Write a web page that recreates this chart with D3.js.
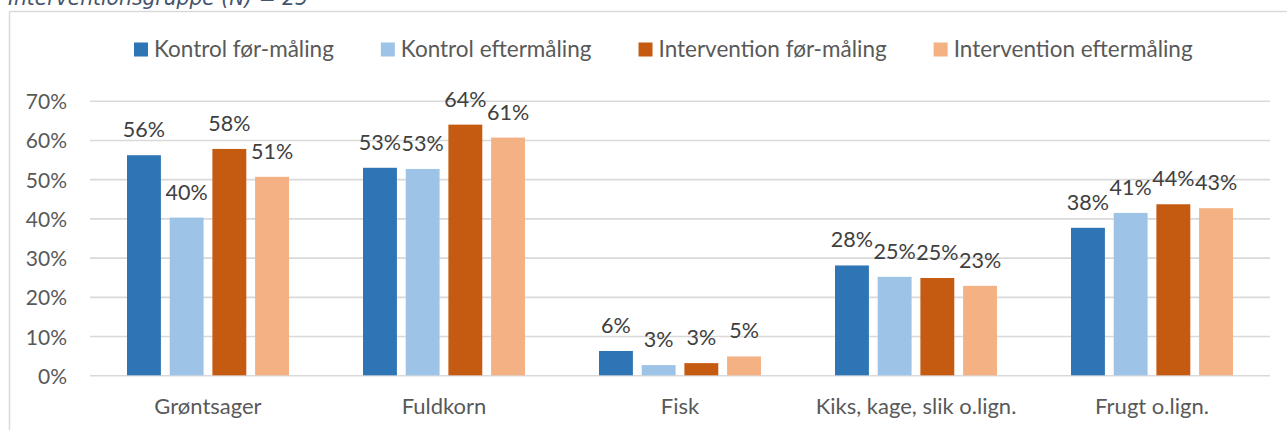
<!DOCTYPE html>
<html>
<head>
<meta charset="utf-8">
<script src="https://cdn.jsdelivr.net/npm/d3@7"></script>
<style>
  html, body { margin: 0; padding: 0; background: #fff; }
  svg { display: block; }
</style>
</head>
<body>
<svg id="chart" width="1287" height="430"></svg>
<script>
// Food categories on the x axis
const categories = ["Grøntsager", "Fuldkorn", "Fisk", "Kiks, kage, slik o.lign.", "Frugt o.lign."];

// Series names (legend order)
const seriesNames = ["Kontrol før-måling", "Kontrol eftermåling", "Intervention før-måling", "Intervention eftermåling"];

// Share per category for each series
const kontrolFoer   = [0.561, 0.529, 0.062, 0.280, 0.376];
const kontrolEfter  = [0.402, 0.526, 0.026, 0.251, 0.414];
const interventFoer = [0.577, 0.639, 0.031, 0.248, 0.436];
const interventEfter= [0.506, 0.606, 0.048, 0.228, 0.426];
const seriesValues = [kontrolFoer, kontrolEfter, interventFoer, interventEfter];

// Y axis tick values
const yTicks = [0, 0.1, 0.2, 0.3, 0.4, 0.5, 0.6, 0.7];

const colors = ["#2E75B6", "#9DC3E6", "#C55A11", "#F4B183"];

const svg = d3.select("#chart");
const fontFamily = "Lato, 'Noto Sans', sans-serif";

// Chart frame (top and left edges fall inside the page)
svg.append("line").attr("x1", 9.5).attr("x2", 1287).attr("y1", 11.5).attr("y2", 11.5)
  .attr("stroke", "#d9d9d9").attr("stroke-width", 1.5);
svg.append("line").attr("x1", 9.5).attr("x2", 9.5).attr("y1", 11.5).attr("y2", 430)
  .attr("stroke", "#d9d9d9").attr("stroke-width", 1.5);

// Heading above the frame
svg.append("text")
  .attr("x", 8).attr("y", 5)
  .attr("font-family", "'DejaVu Sans', sans-serif")
  .attr("font-style", "italic")
  .attr("font-size", 21)
  .attr("fill", "#44546A")
  .attr("textLength", 300)
  .attr("lengthAdjust", "spacingAndGlyphs")
  .text("Interventionsgruppe (N) = 25");

// Scales
const plot = { left: 90, right: 1270, top: 100.7, bottom: 375.3 };
const y = d3.scaleLinear().domain([0, 0.7]).range([plot.bottom, plot.top]);
const x0 = d3.scaleBand().domain(categories).range([plot.left, plot.right])
  .paddingInner(0.3136).paddingOuter(0.1568);
const x1 = d3.scaleBand().domain(d3.range(seriesNames.length)).range([0, x0.bandwidth()])
  .paddingInner(0.206).paddingOuter(0);

// Gridlines and value axis labels
const yAxis = d3.axisLeft(y).tickValues(yTicks).tickFormat(d3.format(".0%"))
  .tickSize(-(plot.right - plot.left)).tickPadding(23);
const gy = svg.append("g").attr("transform", `translate(${plot.left},0)`).call(yAxis);
gy.select(".domain").remove();
gy.selectAll(".tick line").attr("stroke", "#d9d9d9").attr("stroke-width", 1.6);
gy.selectAll(".tick text")
  .attr("font-family", fontFamily).attr("font-size", 21).attr("fill", "#595959")
  .attr("dy", "0.38em");

// Category labels
const xAxis = d3.axisBottom(x0).tickSize(0).tickPadding(23);
const gx = svg.append("g").attr("transform", `translate(0,${plot.bottom})`).call(xAxis);
gx.select(".domain").remove();
gx.selectAll(".tick text")
  .attr("font-family", fontFamily).attr("font-size", 22).attr("fill", "#595959");

// Bars
const rows = categories.map((c, i) => ({
  cat: c,
  vals: seriesValues.map((arr, s) => ({ s, v: arr[i] }))
}));

const groups = svg.append("g").selectAll("g").data(rows).join("g")
  .attr("transform", d => `translate(${x0(d.cat)},0)`);

groups.selectAll("rect").data(d => d.vals).join("rect")
  .attr("x", d => x1(d.s))
  .attr("width", x1.bandwidth())
  .attr("y", d => y(d.v))
  .attr("height", d => y(0) - y(d.v))
  .attr("fill", d => colors[d.s]);

// Value labels above bars
groups.selectAll("text").data(d => d.vals).join("text")
  .attr("x", d => x1(d.s) + x1.bandwidth() / 2)
  .attr("y", d => y(d.v) - 18)
  .attr("text-anchor", "middle")
  .attr("font-family", fontFamily).attr("font-size", 21.5).attr("fill", "#404040")
  .text(d => d3.format(".0%")(d.v));

// Legend
const legend = svg.append("g");
let lx = 134;
seriesNames.forEach((name, i) => {
  legend.append("rect").attr("x", lx).attr("y", 42.5).attr("width", 14).attr("height", 14)
    .attr("fill", colors[i]);
  const t = legend.append("text").attr("x", lx + 20).attr("y", 57)
    .attr("font-family", fontFamily).attr("font-size", 22.5).attr("fill", "#595959")
    .text(name);
  lx += 20 + t.node().getComputedTextLength() + 47;
});
</script>
</body>
</html>
